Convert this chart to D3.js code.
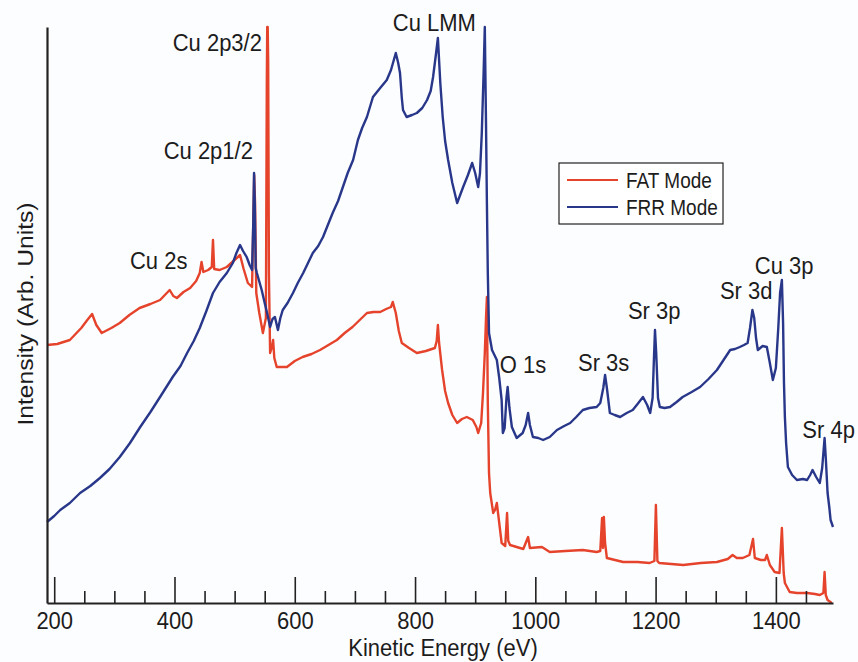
<!DOCTYPE html>
<html>
<head>
<meta charset="utf-8">
<script src="https://cdn.jsdelivr.net/npm/d3@7"></script>
<style>
  html, body { margin: 0; padding: 0; background: #fcfdff; }
  svg { display: block; font-family: "Liberation Sans", Arial, Helvetica, sans-serif; }
</style>
</head>
<body>
<div id="chart"></div>
<script>
// kinetic energy (eV), intensity (arb. units)
const fatMode = [
  [188,258],[205,259],[226,263],[245,275],[255,283],[263,289],[270,278],[279,270],[295,275],[309,280],
  [325,288],[342,295],[360,299],[376,303],[392,313],[398,307],[404,305],[415,311],[426,315],[436,322],
  [442,330],[445,341],[448,331],[456,333],[462,336],[464,363],[466,334],[475,333],[487,336],[498,342],
  [509,348],[515,334],[522,320],[529,316],[531,380],[532.5,428],[534,400],[536,310],[541,290],[547,270],
  [552,285],[553.5,520],[554.2,576],[555,576],[555.8,540],[557,330],[559,250],[562,256],[564,263],[566,245],[570,236],
  [587,236],[600,242],[613,246],[628,249],[642,253],[656,258],[670,263],[683,270],[696,276],[708,283],
  [720,290],[731,291],[742,291],[752,294],[760,296],[763,301],[768,290],[773,272],[778,260],[790,255],
  [803,250],[818,252],[833,255],[836,262],[838,278],[840,260],[845,233],[850,212],[855,200],[862,188],
  [870,180],[878,184],[886,186],[896,183],[902,176],[905,170],[910,180],[913,210],[916,250],[918,285],
  [919.5,306],[921,200],[923,130],[925,110],[930,90],[933,93],[936,100],[938,90],[941,75],[944,60],
  [950,57],[953,90],[955,62],[958,58],[969,56],[980,54],[988,66],[991,55],[1011,56],[1024,51],
  [1050,52],[1079,53],[1102,51],[1108,52],[1111,85],[1112.5,55],[1114,86],[1116,60],[1119,45],[1146,41],
  [1170,41],[1190,40],[1198,42],[1200.5,98],[1203,42],[1206,40],[1246,38],[1275,40],[1302,41],[1320,44],
  [1328,48],[1335,45],[1345,45],[1356,48],[1362,64],[1365,45],[1375,43],[1382,43],[1385,48],[1390,38],
  [1398,31],[1406,30],[1410,75],[1413,30],[1415,20],[1423,11],[1435,10],[1452,10],[1465,9],[1473,8],
  [1479,10],[1481,31],[1483,8],[1486,3],[1493,0]
];

const frrMode = [
  [188,81],[200,87],[210,93],[226,100],[243,110],[260,117],[276,125],[292,134],[309,146],[326,160],
  [343,176],[360,191],[376,206],[397,226],[410,237],[421,250],[432,262],[442,275],[453,292],[464,310],
  [475,321],[487,330],[497,340],[503,350],[509,358],[514,352],[520,346],[525,338],[529,333],[531,380],
  [532.3,430],[533.5,400],[535,335],[537,330],[545,313],[550,300],[554,290],[559,276],[563,284],[567,286],
  [572,273],[576,285],[580,293],[588,300],[597,310],[605,320],[614,330],[622,340],[630,350],[639,357],
  [647,366],[655,378],[663,390],[672,402],[680,416],[688,430],[697,443],[705,463],[712,475],[720,486],
  [730,506],[742,515],[753,523],[760,533],[768,550],[772,540],[775,530],[778,505],[780,493],[786,486],
  [795,488],[803,490],[812,495],[820,503],[826,512],[830,526],[835,550],[838,565],[842,520],[846,486],
  [850,462],[855,443],[862,420],[870,400],[875,408],[880,416],[888,428],[895,440],[900,430],[905,416],
  [908,430],[911,470],[914,530],[916,576],[918,480],[919.5,400],[921,330],[923,270],[928,253],[936,243],
  [940,225],[944,203],[946,170],[949,175],[952,205],[954,216],[957,195],[961,176],[969,165],[979,170],
  [984,178],[988,190],[991,178],[996,166],[1005,165],[1013,163],[1024,166],[1036,173],[1048,177],[1058,180],
  [1068,186],[1079,193],[1090,195],[1102,196],[1108,200],[1113,215],[1116,228],[1119,215],[1124,190],[1132,188],
  [1141,186],[1152,190],[1162,193],[1170,199],[1179,206],[1186,198],[1191,190],[1195,205],[1197,240],[1199,273],
  [1201,250],[1204,205],[1207,196],[1215,195],[1224,196],[1235,201],[1245,206],[1260,211],[1274,216],[1288,224],
  [1302,233],[1313,243],[1324,253],[1332,254],[1340,256],[1347,258],[1353,260],[1357,275],[1361,293],[1364,285],
  [1367,265],[1370,253],[1378,257],[1385,256],[1390,240],[1395,223],[1400,235],[1404,275],[1407,310],[1410,323],
  [1412,280],[1413.5,220],[1415,186],[1417,160],[1420,136],[1427,128],[1435,123],[1445,124],[1452,123],[1457,128],
  [1461,133],[1467,126],[1473,120],[1477,135],[1481,165],[1483,145],[1486,110],[1489,95],[1491,83],[1495,76]
];

const seriesNames = ['FAT Mode', 'FRR Mode'];
const seriesColors = ['#e5432b', '#29378a'];

const majorTicks = [200, 400, 600, 800, 1000, 1200, 1400];
const minorTicks = [250, 300, 350, 450, 500, 550, 650, 700, 750, 850, 900, 950,
                    1050, 1100, 1150, 1250, 1300, 1350, 1450];

// peak labels: text, energy and intensity of the text's left baseline point
const peakLabels = ['Cu 2p3/2', 'Cu 2p1/2', 'Cu 2s', 'Cu LMM', 'O 1s', 'Sr 3s', 'Sr 3p', 'Sr 3d', 'Cu 3p', 'Sr 4p'];
const peakLabelEnergy = [397, 382, 326, 763, 941, 1071, 1154, 1307, 1365, 1444];
const peakLabelIntensity = [552, 444, 334, 572, 230, 232, 284, 304, 329, 165];

const width = 858;
const height = 662;
const textStretch = 'scale(1,1.12)';

const svg = d3.select('#chart')
  .append('svg')
  .attr('width', width)
  .attr('height', height);

svg.append('rect')
  .attr('width', width)
  .attr('height', height)
  .attr('fill', '#fcfdff');

const x = d3.scaleLinear().domain([188, 1495]).range([47, 833]);
const y = d3.scaleLinear().domain([0, 576]).range([603, 27]);

const line = d3.line()
  .x(d => x(d[0]))
  .y(d => y(d[1]));

function drawSeries(data, color) {
  svg.append('path')
    .datum(data)
    .attr('fill', 'none')
    .attr('stroke', color)
    .attr('stroke-width', 2.4)
    .attr('stroke-linejoin', 'round')
    .attr('d', line);
}

drawSeries(fatMode, seriesColors[0]);
drawSeries(frrMode, seriesColors[1]);

// bottom axis: labelled major ticks pointing up, short minor ticks
const minorAxis = svg.append('g')
  .attr('transform', `translate(0,${y(0)})`)
  .call(d3.axisBottom(x).tickValues(minorTicks).tickSizeInner(-12).tickSizeOuter(0).tickFormat(''));
minorAxis.select('.domain').remove();

const majorAxis = svg.append('g')
  .attr('transform', `translate(0,${y(0)})`)
  .call(d3.axisBottom(x).tickValues(majorTicks).tickSizeInner(-26).tickSizeOuter(0).tickPadding(8).tickFormat(d3.format('d')));

svg.selectAll('.tick line').attr('stroke', '#222').attr('stroke-width', 1.6);
majorAxis.select('.domain').attr('stroke', '#222').attr('stroke-width', 2.2);
majorAxis.selectAll('text')
  .attr('font-size', 22)
  .attr('fill', '#1c1c1c')
  .attr('font-family', '"Liberation Sans", Arial, sans-serif')
  .attr('transform', textStretch);

const leftAxis = svg.append('g')
  .attr('transform', `translate(${x.range()[0]},0)`)
  .call(d3.axisLeft(y).tickValues([]).tickSizeOuter(0));
leftAxis.select('.domain').attr('stroke', '#222').attr('stroke-width', 2.2);

// axis titles
svg.append('text')
  .attr('transform', `translate(${(x.range()[0] + x.range()[1]) / 2 + 3},656) ${textStretch}`)
  .attr('text-anchor', 'middle')
  .attr('font-size', 22)
  .attr('fill', '#1c1c1c')
  .text('Kinetic Energy (eV)');

svg.append('text')
  .attr('transform', 'translate(33,314) rotate(-90) scale(1.12,1)')
  .attr('text-anchor', 'middle')
  .attr('font-size', 22)
  .attr('fill', '#1c1c1c')
  .text('Intensity (Arb. Units)');

// peak annotations
peakLabels.forEach((label, i) => {
  svg.append('text')
    .attr('transform', `translate(${x(peakLabelEnergy[i])},${y(peakLabelIntensity[i])}) ${textStretch}`)
    .attr('font-size', 22)
    .attr('fill', '#1c1c1c')
    .text(label);
});

// legend
const legend = svg.append('g').attr('transform', 'translate(559,163)');
legend.append('rect')
  .attr('width', 164)
  .attr('height', 61)
  .attr('fill', '#fff')
  .attr('stroke', '#222')
  .attr('stroke-width', 1.2);

seriesNames.forEach((name, i) => {
  const rowY = 17 + i * 27;
  legend.append('line')
    .attr('x1', 8).attr('x2', 59)
    .attr('y1', rowY).attr('y2', rowY)
    .attr('stroke', seriesColors[i])
    .attr('stroke-width', 2);
  legend.append('text')
    .attr('transform', `translate(67,${rowY + 8}) ${textStretch}`)
    .attr('font-size', 19)
    .attr('fill', '#1c1c1c')
    .text(name);
});
</script>
</body>
</html>
